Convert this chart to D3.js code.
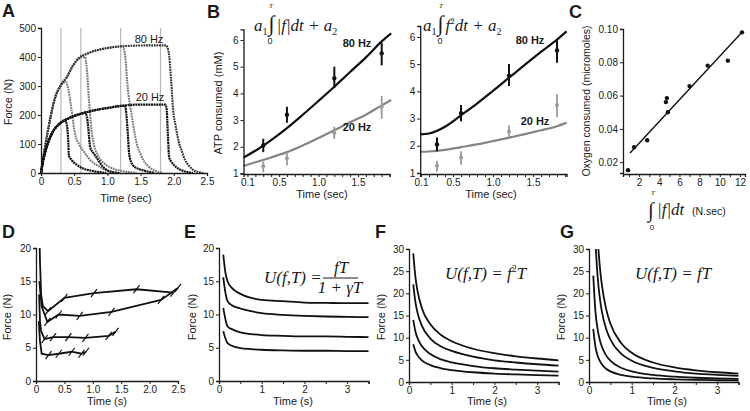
<!DOCTYPE html>
<html><head><meta charset="utf-8">
<script src="https://cdn.jsdelivr.net/npm/d3@7"></script>
<style>
body{margin:0;background:#fff}
svg{display:block}
text{font-family:'Liberation Sans',Arial,sans-serif;fill:#1a1a1a}
</style>
</head><body>
<svg id="chart" width="750" height="411"></svg>
<script>
// ---------------- DATA ----------------
// Panel A: force traces (t sec, force N)
const aStimEnds = [0.3, 0.6, 1.2, 1.8];
const a80Rise = [[0,0],[0.05,75],[0.1,140],[0.15,200],[0.2,250],[0.25,282],[0.3,303],[0.39,331],[0.48,370],[0.57,396],[0.7,412],[0.85,424],[1.0,431],[1.17,436],[1.4,439],[1.6,440]];
const a80Decays = [
  [[0.34,312],[0.37,314],[0.41,290],[0.46,217],[0.51,138],[0.57,100],[0.63,79],[0.72,50],[0.88,22],[1.0,8],[1.14,0]],
  [[0.62,400],[0.66,401],[0.69,360],[0.72,260],[0.76,150],[0.8,95],[0.86,60],[0.98,28],[1.1,14],[1.24,6],[1.44,0]],
  [[1.23,437],[1.27,400],[1.3,310],[1.37,193],[1.44,103],[1.5,65],[1.54,45],[1.62,22],[1.69,11],[1.84,0]],
  [[1.88,440],[1.92,420],[1.96,320],[1.99,217],[2.03,160],[2.07,112],[2.12,75],[2.17,45],[2.23,25],[2.29,11],[2.39,2],[2.45,0]]
];
const a20Rise = [[0,0],[0.03,40],[0.06,70],[0.1,100],[0.15,130],[0.2,150],[0.28,170],[0.36,182],[0.45,192],[0.57,202],[0.66,208],[0.8,216],[1.0,224],[1.19,231],[1.49,236],[1.87,236]];
const a20Decays = [
  [[0.36,182],[0.39,165],[0.41,110],[0.42,60],[0.46,45],[0.54,28],[0.63,16],[0.78,7],[0.98,0]],
  [[0.66,208],[0.69,195],[0.71,160],[0.74,90],[0.78,72],[0.81,62],[0.86,45],[0.93,22],[1.03,6],[1.19,0]],
  [[1.26,232],[1.28,215],[1.30,160],[1.33,62],[1.38,28],[1.45,16],[1.51,11],[1.71,0]],
  [[1.87,236],[1.89,225],[1.91,137],[1.93,55],[1.96,40],[2.0,28],[2.1,11],[2.29,0]]
];
const aXTicks = [0,0.5,1.0,1.5,2.0,2.5];
const aYTicks = [0,100,200,300,400,500];

// Panel B: ATP consumed (mM)
const bTimes = [0.3, 0.6, 1.2, 1.8];
const atp80 = [2.05, 3.2, 4.57, 5.5];
const atp80Lo = [1.8, 2.9, 4.2, 5.05];
const atp80Hi = [2.3, 3.5, 5.0, 5.9];
const atp20 = [1.27, 1.57, 2.52, 3.5];
const atp20Lo = [1.05, 1.3, 2.3, 3.05];
const atp20Hi = [1.45, 1.8, 2.75, 3.9];
const bFitTL = [0.05,0.2,0.4,0.6,0.8,1.0,1.2,1.4,1.6,1.8,1.92];
const bFit80L = [1.6,1.85,2.25,2.7,3.2,3.72,4.25,4.8,5.35,5.95,6.25];
const bFit20L = [1.28,1.42,1.6,1.8,2.05,2.33,2.62,2.92,3.2,3.55,3.75];
const bFitTR = [0.09,0.2,0.4,0.6,0.8,1.0,1.2,1.4,1.6,1.8,1.92];
const bFit80R = [2.42,2.45,2.7,3.12,3.55,4.02,4.5,4.98,5.45,5.9,6.2];
const bFit20R = [1.78,1.79,1.85,1.95,2.05,2.17,2.3,2.43,2.57,2.72,2.85];
const bXTicks = [0.1,0.2,0.3,0.4,0.5,0.6,0.7,0.8,0.9,1.0,1.1,1.2,1.3,1.4,1.5,1.6,1.7,1.8,1.9];
const bXLabels = [0.1,0.5,1.0,1.5];
const bYTicks = [1,2,3,4,5,6];

// Panel C: oxygen consumed vs force-time integral
const cX = [0.9,1.5,2.8,4.65,4.75,4.85,7.0,8.8,10.8,12.2];
const cY = [0.0152,0.029,0.0332,0.0561,0.0585,0.050,0.0657,0.078,0.081,0.098];
const cFitX = [1.1, 12.2];
const cFitY = [0.0255, 0.098];
const cXTicks = [1,2,3,4,5,6,7,8,9,10,11,12];
const cYTicks = [0.02,0.04,0.06,0.08,0.10];

// Panel D: measured force vs time (four series)
const dSeries = [
  [[0.065,20],[0.07,18],[0.09,13],[0.12,11.3],[0.21,10.5],[0.5,12.5],[1.02,13.2],[1.77,13.8],[2.42,13.3]],
  [[0.06,15],[0.08,13],[0.1,11.2],[0.2,8.9],[0.4,10],[0.77,9.8],[1.33,10.4],[2.2,12.2],[2.5,14]],
  [[0.055,13],[0.07,9],[0.09,7.5],[0.15,6.3],[0.3,6.6],[0.57,6.6],[0.87,6.5],[1.28,6.8],[1.4,7.4]],
  [[0.05,9],[0.07,6],[0.1,4.1],[0.22,3.9],[0.4,4.1],[0.63,4.4],[0.8,4.1],[0.88,4.4]]
];
const dXTicks = [0,0.5,1.0,1.5,2.0,2.5];
const dYTicks = [0,5,10,15,20];

// Panel E: U = fT/(1+gT)
const eT = [0.1,0.15,0.2,0.3,0.5,0.75,1,1.5,2,2.5,3,3.5];
const eCurves = [
  [19,16.3,15,14,13.1,12.5,12.2,12.0,11.8,11.75,11.7,11.7],
  [15.6,13.3,12.0,11.4,10.9,10.5,10.2,9.95,9.8,9.7,9.65,9.6],
  [11,9.3,8.2,7.8,7.3,7.05,6.9,6.8,6.7,6.7,6.65,6.6],
  [7.5,6.4,5.7,5.3,4.95,4.8,4.7,4.6,4.55,4.55,4.5,4.5]
];
// Panel F: U = f^2 T
const fT = [0.1,0.15,0.2,0.3,0.5,0.75,1,1.5,2,2.5,3,3.5];
const fCurves = [
  [29,23.7,20.5,16.7,13,10.6,9.2,7.5,6.5,5.8,5.3,4.9],
  [22,18,15.6,12.7,9.8,8.0,7.0,5.7,4.9,4.4,4.0,3.7],
  [14,11.4,9.9,8.1,6.3,5.1,4.4,3.6,3.1,2.8,2.55,2.35],
  [8.5,6.9,6.0,4.9,3.8,3.1,2.7,2.2,1.9,1.7,1.55,1.45]
];
// Panel G: U = fT
const gCurves = [
  [[0.22,30],[0.25,26.4],[0.3,22],[0.4,16.5],[0.5,13.2],[0.75,8.8],[1,6.6],[1.5,4.4],[2,3.3],[2.5,2.64],[3,2.2],[3.5,1.9]],
  [[0.16,30],[0.2,24],[0.25,19.2],[0.3,16],[0.4,12],[0.5,9.6],[0.75,6.4],[1,4.8],[1.5,3.2],[2,2.4],[2.5,1.9],[3,1.6],[3.5,1.37]],
  [[0.1,24],[0.15,16],[0.2,12],[0.25,9.6],[0.3,8],[0.4,6],[0.5,4.8],[0.75,3.2],[1,2.4],[1.5,1.6],[2,1.2],[2.5,0.96],[3,0.8],[3.5,0.69]],
  [[0.1,12],[0.15,8],[0.2,6],[0.25,4.8],[0.3,4],[0.4,3],[0.5,2.4],[0.75,1.6],[1,1.2],[1.5,0.8],[2,0.6],[2.5,0.48],[3,0.4],[3.5,0.34]]
];
const modelXTicks = [0,0.5,1,1.5,2,2.5,3,3.5];
const modelXLabels = [0,1,2,3];
const fgYTicks = [0,5,10,15,20,25,30];

// ---------------- DRAW ----------------
const svg = d3.select('#chart');
const INK = '#1a1a1a';
const GREY = '#858585';

function axis(scale, dir, at, vals, fmt, size) {
  const gen = (dir === 'bottom' ? d3.axisBottom(scale) : d3.axisLeft(scale))
    .tickValues(vals).tickFormat(fmt).tickSizeOuter(0).tickSize(size || 3).tickPadding(2);
  const g = svg.append('g')
    .attr('transform', dir === 'bottom' ? `translate(0,${at})` : `translate(${at},0)`)
    .call(gen);
  g.select('.domain').attr('stroke', INK).attr('stroke-width', 1.3);
  g.selectAll('.tick line').attr('stroke', INK).attr('stroke-width', 1);
  g.selectAll('.tick text').attr('font-size', 10).attr('fill', INK)
    .style('font-family', "'Liberation Sans',Arial,sans-serif");
  return g;
}
function label(txt, x, y, opts = {}) {
  const t = svg.append('text').attr('x', x).attr('y', y).text(txt)
    .attr('font-size', opts.size || 11)
    .attr('text-anchor', opts.anchor || 'middle');
  if (opts.rotate) t.attr('transform', `rotate(-90,${x},${y})`);
  if (opts.bold) t.attr('font-weight', 'bold');
  if (opts.fill) t.style('fill', opts.fill);
  return t;
}
function panelLetter(ch, x, y) { label(ch, x, y, {size: 18, bold: true, anchor: 'start'}); }

// ---- Panel A ----
{
  const x = d3.scaleLinear().domain([0, 2.5]).range([41, 207]);
  const y = d3.scaleLinear().domain([0, 500]).range([173, 28]);
  aStimEnds.forEach(t => {
    svg.append('line').attr('x1', x(t)).attr('x2', x(t)).attr('y1', y(0)).attr('y2', y(500))
      .attr('stroke', '#b8b8b8').attr('stroke-width', 1.2);
  });
  const line = d3.line().x(d => x(d[0])).y(d => y(d[1])).curve(d3.curveMonotoneX);
  a80Decays.forEach((dec, i) => {
    const tr = a80Rise.filter(d => d[0] < dec[0][0]).concat(dec);
    svg.append('path').attr('d', line(tr)).attr('fill', 'none')
      .attr('stroke', i === 3 ? '#333' : '#7c7c7c').attr('stroke-width', 2.1)
      .attr('stroke-dasharray', '1.8,0.8');
  });
  a20Decays.forEach(dec => {
    const tr = a20Rise.filter(d => d[0] < dec[0][0]).concat(dec);
    svg.append('path').attr('d', line(tr)).attr('fill', 'none')
      .attr('stroke', '#111').attr('stroke-width', 2.2).attr('stroke-dasharray', '2,0.6');
  });
  axis(x, 'bottom', 173, aXTicks, d => d === 0 ? '0' : d3.format('.1f')(d));
  axis(y, 'left', 41, aYTicks, d3.format('d'));
  label('80 Hz', 149, 43, {size: 11});
  label('20 Hz', 150, 101, {size: 11});
  label('Force (N)', 12, 102, {rotate: true, size: 11});
  label('Time (sec)', 126, 202, {size: 11});
  panelLetter('A', 2, 17);
}

// ---- Panel B ----
function panelB(xr, yr, tFit, f80, f20) {
  const x = d3.scaleLinear().domain(xr.d).range(xr.r);
  const y = d3.scaleLinear().domain([1, 6.4]).range(yr);
  const line = d3.line().x(d => x(d[0])).y(d => y(d[1])).curve(d3.curveMonotoneX);
  svg.append('path').attr('d', line(tFit.map((t, i) => [t, f20[i]]))).attr('fill', 'none')
    .attr('stroke', GREY).attr('stroke-width', 2.2);
  svg.append('path').attr('d', line(tFit.map((t, i) => [t, f80[i]]))).attr('fill', 'none')
    .attr('stroke', '#111').attr('stroke-width', 2.2);
  bTimes.forEach((t, i) => {
    svg.append('line').attr('x1', x(t)).attr('x2', x(t)).attr('y1', y(atp20Lo[i])).attr('y2', y(atp20Hi[i]))
      .attr('stroke', '#9a9a9a').attr('stroke-width', 1.8);
    svg.append('circle').attr('cx', x(t)).attr('cy', y(atp20[i])).attr('r', 2).attr('fill', '#9a9a9a');
    svg.append('line').attr('x1', x(t)).attr('x2', x(t)).attr('y1', y(atp80Lo[i])).attr('y2', y(atp80Hi[i]))
      .attr('stroke', '#111').attr('stroke-width', 2);
    svg.append('circle').attr('cx', x(t)).attr('cy', y(atp80[i])).attr('r', 2.2).attr('fill', '#111');
  });
  axis(x, 'bottom', 174, bXTicks, d => bXLabels.some(v => Math.abs(v - d) < 1e-6) ? d3.format('.1f')(d) : '');
  axis(y, 'left', xr.r[0], bYTicks, d3.format('d'));
  return x;
}
{
  panelB({d: [0.05, 1.9], r: [243.5, 389.6]}, [173.5, 29.3], bFitTL, bFit80L, bFit20L);
  label('80 Hz', 357, 47, {size: 11, bold: true});
  label('20 Hz', 357, 131, {size: 11, bold: true});
  label('ATP consumed (mM)', 222, 103, {rotate: true, size: 11});
  label('Time (sec)', 322, 198, {size: 11});
  panelB({d: [0.09, 1.92], r: [420.2, 566.6]}, [173, 26], bFitTR, bFit80R, bFit20R);
  label('80 Hz', 530, 44, {size: 11, bold: true});
  label('20 Hz', 535, 125, {size: 11, bold: true});
  label('Time (sec)', 491, 198, {size: 11});
  panelLetter('B', 207, 18);

  // formulas
  const serif = "'Liberation Serif','DejaVu Serif',serif";
  function formula(x0, parts) {
    const t = svg.append('text').attr('x', x0).attr('y', 31).attr('font-size', 17)
      .style('font-family', serif).style('font-style', 'italic');
    parts.forEach(p => {
      const ts = t.append('tspan').text(p.t);
      if (p.dy) ts.attr('dy', p.dy);
      if (p.size) ts.attr('font-size', p.size);
      if (p.dx) ts.attr('dx', p.dx);
      if (p.up) ts.style('font-style', 'normal');
    });
  }
  formula(254, [{t: 'a'}, {t: '1', size: 10, dy: 4, up: true}, {t: '\u222B', dy: -4, size: 22, up: true, dx: 1}, {t: '|f|dt + a', dx: 2}, {t: '2', size: 10, dy: 4, up: true}]);
  formula(423, [{t: 'a'}, {t: '1', size: 10, dy: 4, up: true}, {t: '\u222B', dy: -4, size: 22, up: true, dx: 1}, {t: 'f', dx: 2}, {t: '2', size: 9, dy: -7, up: true}, {t: 'dt + a', dy: 7}, {t: '2', size: 10, dy: 4, up: true}]);
  label('T', 271, 8, {size: 7}).style('font-family', serif).style('font-style', 'italic');
  label('0', 270, 44, {size: 9});
  label('T', 441, 8, {size: 7}).style('font-family', serif).style('font-style', 'italic');
  label('0', 440, 44, {size: 9});
}

// ---- Panel C ----
{
  const x = d3.scaleLinear().domain([0.4, 12.5]).range([623, 745]);
  const y = d3.scaleLinear().domain([0.0135, 0.10]).range([173, 29]);
  svg.append('line').attr('x1', x(cFitX[0])).attr('y1', y(cFitY[0])).attr('x2', x(cFitX[1])).attr('y2', y(cFitY[1]))
    .attr('stroke', '#111').attr('stroke-width', 1.4);
  cX.forEach((v, i) => svg.append('circle').attr('cx', x(v)).attr('cy', y(cY[i])).attr('r', 2.2).attr('fill', '#111'));
  axis(x, 'bottom', 174, cXTicks, d => d % 2 === 0 ? d3.format('d')(d) : '');
  axis(y, 'left', 623, cYTicks, d3.format('.2f'));
  label('Oxygen consumed (micromoles)', 590, 101, {rotate: true, size: 10.5});
  const serif = "'Liberation Serif','DejaVu Serif',serif";
  label('\u222B', 651, 217, {size: 21}).style('font-family', serif);
  label('T', 653, 195, {size: 7}).style('font-family', serif).style('font-style', 'italic');
  label('0', 652, 230, {size: 8});
  label('|f|dt', 657, 215, {size: 17, anchor: 'start'}).style('font-family', serif).style('font-style', 'italic');
  label('(N.sec)', 692, 215, {size: 10.5, anchor: 'start'});
  panelLetter('C', 569, 18);
}

// ---- Panel D ----
{
  const x = d3.scaleLinear().domain([0, 2.5]).range([36, 178]);
  const y = d3.scaleLinear().domain([0, 20]).range([381, 248]);
  const line = d3.line().x(d => x(d[0])).y(d => y(d[1]));
  dSeries.forEach(s => {
    svg.append('path').attr('d', line(s)).attr('fill', 'none').attr('stroke', '#111').attr('stroke-width', 1.8);
    s.filter(d => d[0] > 0.14).forEach(d => {
      svg.append('line').attr('x1', x(d[0]) - 3).attr('y1', y(d[1]) + 4).attr('x2', x(d[0]) + 3).attr('y2', y(d[1]) - 4)
        .attr('stroke', '#111').attr('stroke-width', 1.2);
    });
  });
  axis(x, 'bottom', 381, dXTicks, d => d === 0 ? '0' : d3.format('.1f')(d));
  axis(y, 'left', 36, dYTicks, d3.format('d'));
  label('Force (N)', 11, 317, {rotate: true, size: 11});
  label('Time (s)', 107, 405, {size: 11});
  panelLetter('D', 2, 238);
}

// ---- Panels E, F, G ----
function modelPanel(x0, yMax, curves, letter, lx, ylabX, xlabC) {
  const x = d3.scaleLinear().domain([0, 3.5]).range([x0, x0 + 149.5]);
  const y = d3.scaleLinear().domain([0, yMax]).range([yMax === 20 ? 381 : 382, yMax === 20 ? 248 : 249]);
  const line = d3.line().x(d => x(d[0])).y(d => y(d[1])).curve(d3.curveMonotoneX);
  curves.forEach(c => svg.append('path').attr('d', line(c)).attr('fill', 'none')
    .attr('stroke', '#111').attr('stroke-width', 1.8));
  axis(x, 'bottom', y(0), modelXTicks, d => modelXLabels.includes(d) ? d3.format('d')(d) : '');
  axis(y, 'left', x0, yMax === 20 ? dYTicks : fgYTicks, d3.format('d'));
  label('Force (N)', ylabX, 317, {rotate: true, size: 11});
  label('Time (s)', xlabC, 405, {size: 11});
  panelLetter(letter, lx, 238);
}
modelPanel(219, 20, eCurves.map(c => eT.map((t, i) => [t, c[i]])), 'E', 184, 196, 293);
modelPanel(409, 30, fCurves.map(c => fT.map((t, i) => [t, c[i]])), 'F', 375, 385, 487);
modelPanel(589, 30, gCurves, 'G', 560, 565, 667);

// formulas E/F/G
{
  const serif = "'Liberation Serif','DejaVu Serif',serif";
  function ftext(txt, x, y, anchor) {
    return svg.append('text').attr('x', x).attr('y', y).attr('font-size', 17)
      .attr('text-anchor', anchor || 'start').style('font-family', serif).style('font-style', 'italic').text(txt);
  }
  ftext('U(f,T) =', 264, 283);
  ftext('fT', 341, 273, 'middle');
  svg.append('line').attr('x1', 323).attr('x2', 358).attr('y1', 278).attr('y2', 278).attr('stroke', '#1a1a1a').attr('stroke-width', 1);
  ftext('1 + \u03B3T', 340, 293, 'middle');
  const f2 = ftext('U(f,T) = f', 445, 279);
  f2.append('tspan').text('2').attr('font-size', 10).attr('dy', -7).style('font-style', 'normal');
  f2.append('tspan').text('T').attr('dy', 7);
  ftext('U(f,T) = fT', 635, 279);
}
</script>
</body></html>
